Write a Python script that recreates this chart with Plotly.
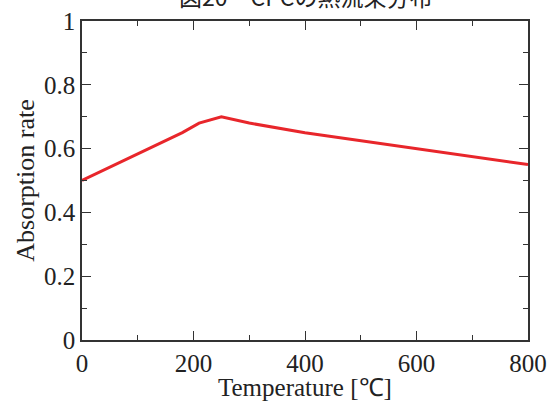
import plotly.graph_objects as go

temperature = [0, 180, 210, 250, 300, 400, 800]
absorption = [0.50, 0.65, 0.68, 0.70, 0.68, 0.65, 0.55]
x_ticks = [0, 200, 400, 600, 800]
y_ticks = [0, 0.2, 0.4, 0.6, 0.8, 1]
y_tick_labels = ["0", "0.2", "0.4", "0.6", "0.8", "1"]

fig = go.Figure()
fig.add_trace(go.Scatter(x=temperature, y=absorption, mode="lines",
                         line=dict(color="#e8262b", width=3), showlegend=False))

axis_common = dict(showline=True, linecolor="#333333", linewidth=1.5, mirror="ticks",
                   ticks="inside", ticklen=9, tickwidth=1.2, tickcolor="#333333",
                   showgrid=False, zeroline=False, automargin=False,
                   tickfont=dict(family="Liberation Serif", size=25, color="#222222"))

fig.update_xaxes(range=[0, 800], tickvals=x_ticks,
                 minor=dict(ticks="inside", ticklen=5, tickwidth=1.2, tickcolor="#333333", dtick=100),
                 **axis_common)
fig.update_yaxes(range=[0, 1], tickvals=y_ticks, ticktext=y_tick_labels,
                 minor=dict(ticks="inside", ticklen=5, tickwidth=1.2, tickcolor="#333333", dtick=0.1),
                 title=dict(text="Absorption rate", standoff=2,
                            font=dict(family="Liberation Serif", size=26, color="#222222")),
                 **axis_common)

fig.add_annotation(text="Temperature [℃]", xref="paper", yref="paper",
                   x=0.5, y=0, xanchor="center", yanchor="top", yshift=-32,
                   showarrow=False,
                   font=dict(family="Liberation Serif", size=25, color="#222222"))

fig.add_annotation(text="図20　CPCの熱流束分布", xref="paper", yref="paper",
                   x=0.5, y=1, xanchor="center", yanchor="bottom", yshift=6,
                   showarrow=False,
                   font=dict(family="Noto Sans CJK JP", size=23, color="#222222"))

fig.update_layout(width=558, height=403, plot_bgcolor="white", paper_bgcolor="white",
                  margin=dict(l=82, r=30, t=21, b=63))

fig.write_html("out.html", config={"displayModeBar": False},
               post_script="document.body.style.margin='0';")
